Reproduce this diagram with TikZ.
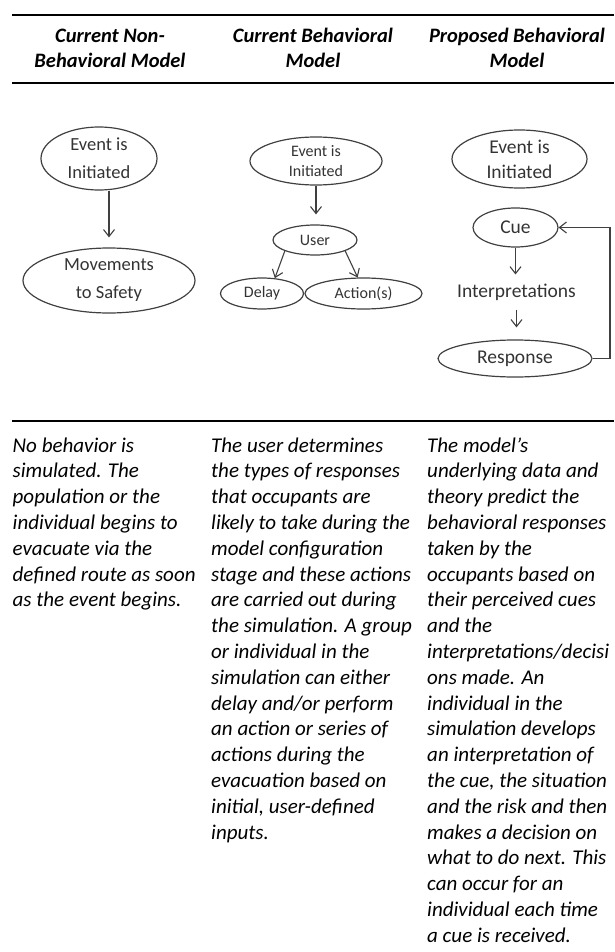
\documentclass[tikz,border=0pt]{standalone}
\usepackage{fontspec}
\setmainfont{Carlito}
\usetikzlibrary{shapes.geometric,arrows.meta}

\tikzset{
  blob/.style={ellipse, draw=black!75, line width=1.2pt, inner sep=0pt, align=center, text=black!80},
  arr/.style={draw=black!75, line width=1.1pt, -{Straight Barb[length=7pt,width=11pt]}},
  hdr/.style={anchor=base, align=center, inner sep=0pt, font=\fontsize{20.5}{25}\selectfont\bfseries\itshape},
  body/.style={anchor=base west, align=left, inner sep=0pt, font=\fontsize{21}{25.8}\selectfont\itshape},
  rule/.style={line width=2pt},
}

\begin{document}
\begin{tikzpicture}[x=1pt, y=-1pt]
	\useasboundingbox (0,0) rectangle (614,952);
	% rules of the table
	\draw[rule] (12,15) -- (614,15);
	\draw[rule] (12,83) -- (614,83);
	\draw[rule] (12,421) -- (614,421);
	% headings (base = last line)
	\node[hdr] (hdA) at (110,68) {Current Non-\\Behavioral Model};
	\node[hdr] (hdB) at (313,68) {Current Behavioral\\Model};
	\node[hdr] (hdC) at (517,68) {Proposed Behavioral\\Model};
	% non-behavioral
	\begin{scope}[every node/.append style={font=\fontsize{18.5}{28}\selectfont}]
		\node[blob, minimum width=116, minimum height=63] (evA) at (99,158.5) {Event is\\Initiated};
		\node[blob, minimum width=172, minimum height=65] (moveA) at (109,280.5) {Movements\\to Safety};
	\end{scope}
	\draw[arr, shorten >=10pt] (evA.south -| moveA.north) -- (moveA.north);
	% current behavioral
	\begin{scope}[every node/.append style={font=\fontsize{16}{19.5}\selectfont}]
		\node[blob, minimum width=132, minimum height=48] (evB) at (316,161) {Event is\\Initiated};
		\node[blob, minimum width=84, minimum height=30] (userB) at (315,240) {User};
		\node[blob, minimum width=83, minimum height=31] (delayB) at (262,293.5) {Delay};
		\node[blob, minimum width=117, minimum height=31] (actB) at (363.5,293.5) {Action(s)};
	\end{scope}
	\draw[arr, shorten >=10pt] (evB.south) -- (evB.south |- userB.north);
	\draw[arr] (userB.200) -- (delayB.50);
	\draw[arr] (userB.340) -- (actB.110);
	% proposed behavioral
	\begin{scope}[every node/.append style={font=\fontsize{19.5}{25}\selectfont}]
		\node[blob, minimum width=135, minimum height=58] (evC) at (519.5,159) {Event is\\Initiated};
		\node[blob, minimum width=85, minimum height=39] (cueC) at (515.5,227.5) {Cue};
		\node[text=black!80, inner sep=0pt] (interpC) at (516.5,292) {Interpretations};
		\node[blob, minimum width=154, minimum height=37] (respC) at (515,358.5) {Response};
	\end{scope}
	\coordinate (loopC) at (610,227.5);
	\draw[arr, shorten >=9pt] (cueC.south) -- (cueC.south |- interpC.north);
	\draw[arr, shorten <=9pt, shorten >=12pt] (interpC.south) -- (interpC.south |- respC.north);
	\draw[arr] (respC.east) -| (loopC) -- (cueC.east);
	% descriptions (base = last line, first line at 452)
	\node[body] (txtA) at (12.5,606.8) {No behavior is\\simulated. The\\population or the\\individual begins to\\evacuate via the\\defined route as soon\\as the event begins.};
	\node[body] (txtB) at (211,839) {The user determines\\the types of responses\\that occupants are\\likely to take during the\\model configuration\\stage and these actions\\are carried out during\\the simulation. A group\\or individual in the\\simulation can either\\delay and/or perform\\an action or series of\\actions during the\\evacuation based on\\initial, user-defined\\inputs.};
	\node[body] (txtC) at (427,942.2) {The model’s\\underlying data and\\theory predict the\\behavioral responses\\taken by the\\occupants based on\\their perceived cues\\and the\\interpretations/decisi\\ons made. An\\individual in the\\simulation develops\\an interpretation of\\the cue, the situation\\and the risk and then\\makes a decision on\\what to do next. This\\can occur for an\\individual each time\\a cue is received.};
\end{tikzpicture}
\end{document}
